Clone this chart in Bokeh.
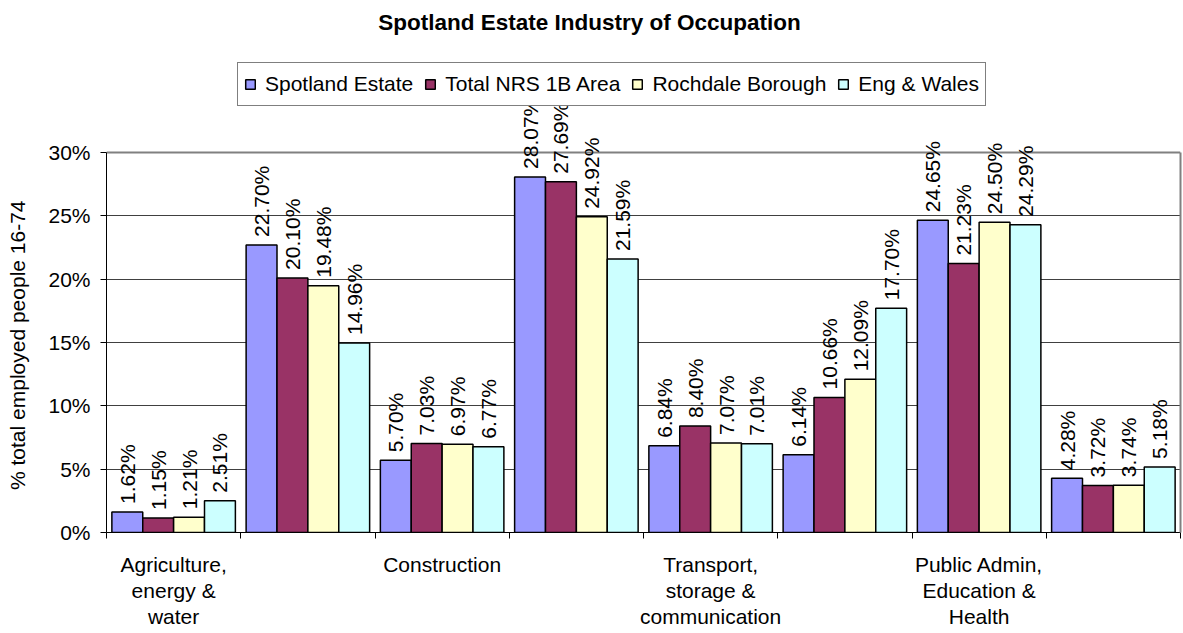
from math import pi
from bokeh.plotting import figure
from bokeh.models import (ColumnDataSource, Range1d, FixedTicker, PrintfTickFormatter,
                          Legend, LegendItem, Label, LinearAxis, Grid)
from bokeh.transform import dodge
from bokeh.core.properties import value
from bokeh.embed import file_html
from bokeh.resources import INLINE

# ---------------- data ----------------
categories = [
    "Agriculture, energy & water",
    "Manufacturing",
    "Construction",
    "Distribution, hotels & restaurants",
    "Transport, storage & communication",
    "Finance, real estate & business",
    "Public Admin, Education & Health",
    "Other",
]
tick_labels = [
    "Agriculture,\nenergy &\nwater", "", "Construction", "",
    "Transport,\nstorage &\ncommunication", "", "Public Admin,\nEducation &\nHealth", "",
]
series_names = ["Spotland Estate", "Total NRS 1B Area", "Rochdale Borough", "Eng & Wales"]
spotland = [1.62, 22.70, 5.70, 28.07, 6.84, 6.14, 24.65, 4.28]
nrs_1b = [1.15, 20.10, 7.03, 27.69, 8.40, 10.66, 21.23, 3.72]
rochdale = [1.21, 19.48, 6.97, 24.92, 7.07, 12.09, 24.50, 3.74]
eng_wales = [2.51, 14.96, 6.77, 21.59, 7.01, 17.70, 24.29, 5.18]
y_ticks = [0, 5, 10, 15, 20, 25, 30]
y_label = "% total employed people 16-74"
title = "Spotland Estate Industry of Occupation"

colors = ["#9999FF", "#993366", "#FFFFCC", "#CCFFFF"]
series = [spotland, nrs_1b, rochdale, eng_wales]
FONT = "Liberation Sans"

centers = [i + 0.5 for i in range(len(categories))]
data = dict(x=centers, cat=categories)
for k, vals in enumerate(series):
    data[f"s{k}"] = vals
    data[f"l{k}"] = ["%.2f%%" % v for v in vals]
src = ColumnDataSource(data)

W, H = 1183, 632
FRAME_BOTTOM = 532
p = figure(width=W, height=H, output_backend="svg", toolbar_location=None,
           x_range=Range1d(0, len(categories)), y_range=Range1d(0, 42.0),
           min_border_left=106, min_border_right=3, min_border_top=0,
           min_border_bottom=H - FRAME_BOTTOM)
p.outline_line_color = None
p.background_fill_color = "white"
p.border_fill_color = "white"
p.title.text = ""

# grid
p.xgrid.visible = False
p.ygrid.ticker = FixedTicker(ticks=y_ticks[1:-1])
p.ygrid.grid_line_color = "#404040"
p.ygrid.grid_line_width = 1
top_grid = Grid(dimension=1, ticker=FixedTicker(ticks=[y_ticks[-1]]),
                grid_line_color="#808080", grid_line_width=2)
p.add_layout(top_grid)

# bars + labels
width = 0.23
offsets = [-0.345, -0.115, 0.115, 0.345]
renderers = []
for k in range(4):
    r = p.vbar(x=dodge("x", offsets[k], range=p.x_range), top=f"s{k}", width=width,
               source=src, fill_color=colors[k], line_color="black", line_width=1.5)
    renderers.append(r)
    p.text(x=dodge("x", offsets[k], range=p.x_range), y=f"s{k}", text=f"l{k}", source=src,
           angle=pi / 2, text_align="left", text_baseline="middle", y_offset=-8,
           text_font=value(FONT), text_font_size="21px", text_color="black")

# axes
xa = p.xaxis[0]
xa.ticker = FixedTicker(ticks=centers, minor_ticks=list(range(len(categories) + 1)))
xa.major_label_overrides = {c: t for c, t in zip(centers, tick_labels)}
xa.major_tick_out = 0
xa.major_tick_in = 0
xa.minor_tick_out = 6
xa.minor_tick_in = 0
xa.minor_tick_line_color = "black"
xa.axis_line_color = "black"
xa.major_label_standoff = 14
xa.major_label_text_font = FONT
xa.major_label_text_font_size = "21px"
xa.major_label_text_line_height = 1.15
xa.major_label_text_color = "black"

ya = p.yaxis[0]
ya.ticker = FixedTicker(ticks=y_ticks)
ya.formatter = PrintfTickFormatter(format="%d%%")
ya.bounds = (0, 30)
ya.major_tick_out = 6
ya.major_tick_in = 0
ya.minor_tick_line_color = None
ya.axis_line_color = "black"
ya.major_tick_line_color = "black"
ya.major_label_standoff = 10
ya.major_label_text_font = FONT
ya.major_label_text_font_size = "21px"
ya.major_label_text_color = "black"
# trailing wide spaces shift the centred label down to sit beside the 0-30% scale
ya.axis_label = y_label + "\u2003" * 7 + "\u2002"
ya.axis_label_text_font = FONT
ya.axis_label_text_font_size = "21px"
ya.axis_label_text_font_style = "normal"
ya.axis_label_text_color = "black"
ya.axis_label_standoff = 16

right = LinearAxis(ticker=FixedTicker(ticks=[]), bounds=(0, 30), axis_line_color="#808080",
                   axis_line_width=2, major_tick_line_color=None, minor_tick_line_color=None,
                   major_label_standoff=0)
p.add_layout(right, "right")

# title (inside the frame, positioned in screen units)
ttl = Label(x=483, y=FRAME_BOTTOM - 22, x_units="screen", y_units="screen", text=title,
            text_align="center", text_baseline="middle", text_font=FONT,
            text_font_size="22.5px", text_font_style="bold", text_color="black")
p.add_layout(ttl)

legend = Legend(items=[LegendItem(label=n, renderers=[r]) for n, r in zip(series_names, renderers)],
                orientation="horizontal", location=(131, FRAME_BOTTOM - 106), margin=0, padding=6,
                spacing=11, glyph_width=12, glyph_height=12, label_standoff=9, label_height=30,
                label_text_font=FONT, label_text_font_size="21px", label_text_color="black",
                border_line_color="black", border_line_width=1,
                background_fill_color="white", background_fill_alpha=1.0)
p.add_layout(legend)

open("out.html", "w").write(file_html(p, INLINE))
